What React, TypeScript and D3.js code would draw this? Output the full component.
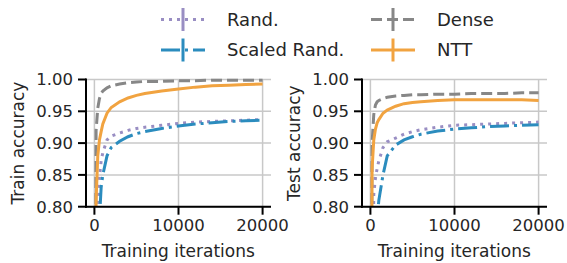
import { useEffect, useRef } from "react"
import * as d3 from "d3"

const iterations = [0, 200, 400, 600, 800, 1000, 1500, 2000, 3000, 4000, 5000, 6000, 8000, 10000, 12000, 14000, 16000, 18000, 20000]

const trainRand = [0.1, 0.6, 0.8, 0.845, 0.872, 0.885, 0.905, 0.911, 0.916, 0.92, 0.923, 0.925, 0.928, 0.931, 0.933, 0.934, 0.935, 0.936, 0.937]
const trainScaled = [0.1, 0.3, 0.6, 0.78, 0.83, 0.85, 0.88, 0.893, 0.903, 0.91, 0.915, 0.918, 0.923, 0.927, 0.93, 0.932, 0.934, 0.935, 0.936]
const trainDense = [0.1, 0.92, 0.955, 0.97, 0.978, 0.982, 0.987, 0.99, 0.993, 0.995, 0.996, 0.997, 0.997, 0.998, 0.998, 0.999, 0.999, 0.999, 0.999]
const trainNTT = [0.1, 0.81, 0.88, 0.905, 0.918, 0.93, 0.947, 0.956, 0.965, 0.971, 0.975, 0.978, 0.982, 0.985, 0.988, 0.99, 0.991, 0.992, 0.993]

const testRand = [0.1, 0.6, 0.82, 0.845, 0.86, 0.872, 0.893, 0.902, 0.908, 0.914, 0.918, 0.921, 0.925, 0.928, 0.929, 0.93, 0.931, 0.932, 0.933]
const testScaled = [0.1, 0.3, 0.5, 0.7, 0.78, 0.81, 0.85, 0.88, 0.897, 0.905, 0.91, 0.914, 0.919, 0.922, 0.924, 0.926, 0.927, 0.928, 0.929]
const testDense = [0.1, 0.9, 0.945, 0.96, 0.965, 0.967, 0.97, 0.972, 0.974, 0.975, 0.976, 0.976, 0.977, 0.977, 0.978, 0.978, 0.978, 0.979, 0.979]
const testNTT = [0.1, 0.86, 0.905, 0.922, 0.932, 0.937, 0.947, 0.952, 0.958, 0.962, 0.964, 0.965, 0.967, 0.968, 0.968, 0.968, 0.968, 0.968, 0.967]

const yTicks = [0.8, 0.85, 0.9, 0.95, 1.0]
const xTicks = [0, 10000, 20000]

const series = [
  { name: "Rand.", color: "#998ec3", dash: "3,5" },
  { name: "Scaled Rand.", color: "#2b8cbe", dash: "19,5,3,5" },
  { name: "Dense", color: "#878787", dash: "11,5" },
  { name: "NTT", color: "#f1a340", dash: null },
]

const panels = [
  { label: "Train accuracy", left: 86, values: [trainRand, trainScaled, trainDense, trainNTT] },
  { label: "Test accuracy", left: 362, values: [testRand, testScaled, testDense, testNTT] },
]

const W = 567
const H = 263
const font = "DejaVu Sans, sans-serif"
const ink = "#262626"

const App = () => {
  const ref = useRef<SVGSVGElement>(null)

  useEffect(() => {
    const svg = d3.select(ref.current)
    svg.selectAll("*").remove()

    const top = 79.5
    const bottom = 206.7
    const pw = 185

    panels.forEach((p, pi) => {
      const x = d3.scaleLinear().domain([-1000, 21000]).range([p.left, p.left + pw])
      const y = d3.scaleLinear().domain([0.8, 1.0]).range([bottom, top])
      const g = svg.append("g")

      const clipId = `clip${pi}`
      g.append("clipPath")
        .attr("id", clipId)
        .append("rect")
        .attr("x", p.left)
        .attr("y", top - 3)
        .attr("width", pw)
        .attr("height", bottom - top + 3)

      // grid
      g.selectAll(".gy")
        .data(yTicks)
        .join("line")
        .attr("x1", p.left)
        .attr("x2", p.left + pw)
        .attr("y1", (d) => y(d))
        .attr("y2", (d) => y(d))
        .attr("stroke", "#c8c8c8")
        .attr("stroke-width", 1.5)
      g.selectAll(".gx")
        .data(xTicks)
        .join("line")
        .attr("x1", (d) => x(d))
        .attr("x2", (d) => x(d))
        .attr("y1", top)
        .attr("y2", bottom)
        .attr("stroke", "#c8c8c8")
        .attr("stroke-width", 1.5)

      const line = d3
        .line<number>()
        .x((_, i) => x(iterations[i]))
        .y((d) => y(d))

      const lines = g.append("g").attr("clip-path", `url(#${clipId})`)
      series.forEach((s, si) => {
        lines
          .append("path")
          .attr("d", line(p.values[si]))
          .attr("fill", "none")
          .attr("stroke", s.color)
          .attr("stroke-width", 3)
          .attr("stroke-dasharray", s.dash)
      })

      // spines
      g.append("line")
        .attr("x1", p.left)
        .attr("x2", p.left)
        .attr("y1", top - 1)
        .attr("y2", bottom + 1)
        .attr("stroke", "#000")
        .attr("stroke-width", 2)
      g.append("line")
        .attr("x1", p.left - 1)
        .attr("x2", p.left + pw)
        .attr("y1", bottom)
        .attr("y2", bottom)
        .attr("stroke", "#000")
        .attr("stroke-width", 2)

      // y ticks
      yTicks.forEach((t) => {
        g.append("line")
          .attr("x1", p.left - 8)
          .attr("x2", p.left)
          .attr("y1", y(t))
          .attr("y2", y(t))
          .attr("stroke", "#000")
          .attr("stroke-width", 2)
        g.append("text")
          .attr("x", p.left - 13)
          .attr("y", y(t))
          .attr("dy", "0.36em")
          .attr("text-anchor", "end")
          .attr("font-family", font)
          .attr("font-size", 16.5)
          .attr("fill", ink)
          .text(d3.format(".2f")(t))
      })
      xTicks.forEach((t) => {
        g.append("line")
          .attr("x1", x(t))
          .attr("x2", x(t))
          .attr("y1", bottom)
          .attr("y2", bottom + 8)
          .attr("stroke", "#000")
          .attr("stroke-width", 2)
        g.append("text")
          .attr("x", x(t))
          .attr("y", bottom + 24.5)
          .attr("text-anchor", "middle")
          .attr("font-family", font)
          .attr("font-size", 16.5)
          .attr("fill", ink)
          .text(t)
      })

      g.append("text")
        .attr("x", p.left + (x(20000) - p.left) / 2 + 4)
        .attr("y", 257)
        .attr("text-anchor", "middle")
        .attr("font-family", font)
        .attr("font-size", 17)
        .attr("fill", ink)
        .text("Training iterations")

      g.append("text")
        .attr("transform", `translate(${p.left - 62},${(top + bottom) / 2}) rotate(-90)`)
        .attr("text-anchor", "middle")
        .attr("font-family", font)
        .attr("font-size", 17)
        .attr("fill", ink)
        .text(p.label)
    })

    // legend
    const cols = [161, 371]
    const rows = [19.5, 50]
    const leg = svg.append("g")
    series.forEach((s, i) => {
      const cx = cols[i % 2 === 0 ? 0 : 0]
      const col = i === 0 || i === 1 ? 0 : 1
      const row = i === 0 || i === 2 ? 0 : 1
      const x0 = cols[col] + (cx - cx)
      const yy = rows[row]
      const hw = 44
      leg.append("line")
        .attr("x1", x0)
        .attr("x2", x0 + hw)
        .attr("y1", yy)
        .attr("y2", yy)
        .attr("stroke", s.color)
        .attr("stroke-width", 3)
        .attr("stroke-dasharray", s.dash)
      leg.append("line")
        .attr("x1", x0 + hw / 2)
        .attr("x2", x0 + hw / 2)
        .attr("y1", yy - 11.5)
        .attr("y2", yy + 11.5)
        .attr("stroke", s.color)
        .attr("stroke-width", 3)
      leg.append("text")
        .attr("x", x0 + 66)
        .attr("y", yy)
        .attr("dy", "0.36em")
        .attr("font-family", font)
        .attr("font-size", 18)
        .attr("fill", ink)
        .text(s.name)
    })
  }, [])

  return <svg ref={ref} width={W} height={H} viewBox={`0 0 ${W} ${H}`} style={{ position: "absolute", left: 0, top: 0 }} />
}

export default App
